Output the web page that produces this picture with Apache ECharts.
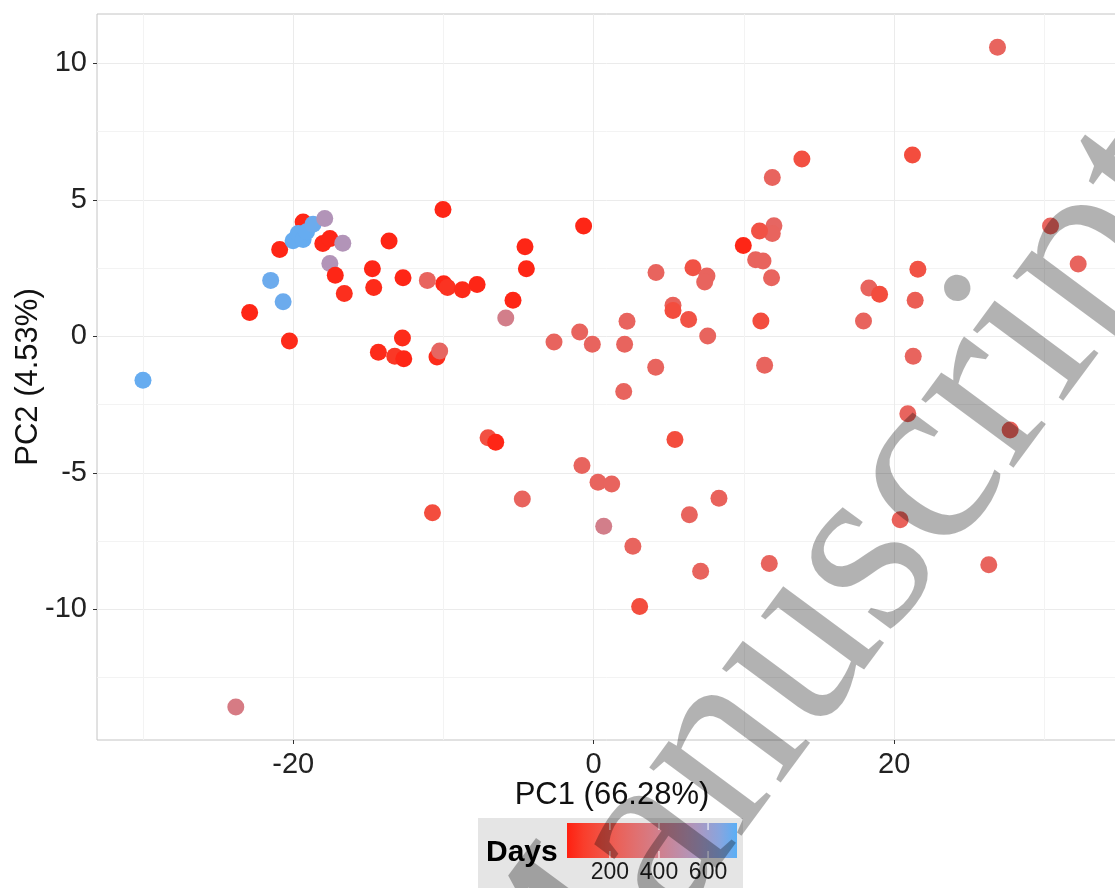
<!DOCTYPE html>
<html><head><meta charset="utf-8">
<script src="https://cdn.jsdelivr.net/npm/echarts@6/dist/echarts.min.js"></script>
<style>html,body{margin:0;padding:0;background:#fff}#c{width:1115px;height:888px}</style>
</head><body><div id="c"></div>
<script>
// ---- data ----
const pc1 = [-30.0,-22.9,-20.25,-21.5,-20.67,-20.9,-19.34,-20.01,-19.67,-19.34,
  -19.11,-18.68,-17.9,-18.03,-17.56,-16.7,-17.56,-17.2,-16.6,-14.73,
  -14.64,-14.33,-13.62,-12.69,-11.07,-10.03,-9.98,-9.73,-8.74,-7.76,
  -4.57,-4.48,-5.37,-5.85,-0.67,-12.73,-13.24,-12.64,-10.43,-10.25,
  -2.64,-0.93,-0.09,2.22,2.06,2.0,13.86,11.89,21.22,12.0,
  11.89,11.04,9.96,10.78,11.27,11.84,4.15,6.61,7.54,7.39,
  5.28,5.28,6.32,7.59,11.13,4.13,11.38,18.32,19.03,17.96,
  21.58,21.4,21.27,-7.03,-6.52,5.41,-0.78,0.29,1.2,-4.75,
  -10.73,0.67,8.34,6.37,2.61,7.12,11.69,3.06,26.88,30.41,
  32.25,20.91,27.72,20.4,26.3,-23.82];
const pc2 = [-1.61,0.87,-0.17,2.05,1.27,3.18,4.19,3.50,3.77,3.55,
  3.83,4.11,4.32,3.40,3.58,3.41,2.67,2.24,1.57,2.48,
  1.79,-0.58,3.49,2.15,2.05,4.65,1.93,1.79,1.71,1.90,
  3.28,2.48,1.32,0.67,4.04,-0.06,-0.73,-0.82,-0.76,-0.54,
  -0.21,0.16,-0.29,0.55,-0.29,-2.02,6.50,5.82,6.64,4.05,
  3.77,3.86,3.33,2.81,2.76,2.15,2.34,2.51,2.21,1.99,
  1.14,0.95,0.62,0.01,0.56,-1.13,-1.06,1.77,1.54,0.56,
  2.46,1.32,-0.73,-3.72,-3.88,-3.78,-4.73,-5.35,-5.41,-5.96,
  -6.46,-6.96,-5.93,-6.54,-7.69,-8.61,-8.32,-9.90,10.59,4.04,
  2.65,-2.84,-3.43,-6.72,-8.37,-13.58];
const days = [700,40,50,690,690,40,40,700,700,700,
  700,690,530,40,40,530,530,40,60,40,
  50,50,40,40,250,40,40,70,50,40,
  40,40,40,390,40,50,80,40,50,260,
  250,250,250,250,250,250,160,250,150,260,
  250,170,40,250,250,250,250,170,250,250,
  240,150,170,250,150,250,250,250,150,250,
  170,220,250,160,40,150,250,250,250,250,
  150,390,240,250,250,250,250,150,250,250,
  250,250,240,240,250,370];
const xMajor = [-20, 0, 20];
const xMinor = [-30, -10, 10, 30];
const yMajor = [-10, -5, 0, 5, 10];
const yMinor = [-12.5, -7.5, -2.5, 2.5, 7.5];
const legendTicks = [200, 400, 600];
const daysMin = 25, daysMax = 718;
const xTitle = 'PC1 (66.28%)';
const yTitle = 'PC2 (4.53%)';
const legendTitle = 'Days';

// ---- colour scale (Lab interpolation like ggplot) ----
const lowCol = [255, 32, 16], highCol = [90, 175, 246];
function toLin(c){c/=255;return c<=0.04045?c/12.92:Math.pow((c+0.055)/1.055,2.4);}
function fromLin(v){v=v<=0.0031308?12.92*v:1.055*Math.pow(v,1/2.4)-0.055;return Math.round(Math.max(0,Math.min(1,v))*255);}
function f(t){return t>0.008856?Math.cbrt(t):7.787*t+16/116;}
function finv(t){const t3=t*t*t;return t3>0.008856?t3:(t-16/116)/7.787;}
function rgb2lab(c){const R=toLin(c[0]),G=toLin(c[1]),B=toLin(c[2]);
  const X=(0.4124*R+0.3576*G+0.1805*B)/0.95047,Y=0.2126*R+0.7152*G+0.0722*B,Z=(0.0193*R+0.1192*G+0.9505*B)/1.08883;
  return [116*f(Y)-16,500*(f(X)-f(Y)),200*(f(Y)-f(Z))];}
function lab2rgb(l){const fy=(l[0]+16)/116,fx=fy+l[1]/500,fz=fy-l[2]/200;
  const X=finv(fx)*0.95047,Y=finv(fy),Z=finv(fz)*1.08883;
  const R=3.2406*X-1.5372*Y-0.4986*Z,G=-0.9689*X+1.8758*Y+0.0415*Z,B=0.0557*X-0.2040*Y+1.0570*Z;
  return 'rgb('+fromLin(R)+','+fromLin(G)+','+fromLin(B)+')';}
const labLo = rgb2lab(lowCol), labHi = rgb2lab(highCol);
const nStops = 11;
const stops = [];
for (let i = 0; i < nStops; i++) {
  const t = i/(nStops-1);
  stops.push(lab2rgb([0,1,2].map(k => labLo[k]+(labHi[k]-labLo[k])*t)));
}

const FONT = '"Liberation Sans", Arial, sans-serif';
const xMin = -33.06, xMax = 35.5, yMin = -14.79, yMax = 11.81;
const gridLeft = 97, gridTop = 14, gridW = 1030, gridH = 726;

const chart = echarts.init(document.getElementById('c'), null, {renderer: 'canvas'});
const points = pc1.map((x, i) => [x, pc2[i], days[i]]);

// legend geometry
const barX = 567, barY = 823, barW = 170, barH = 35;
const graphics = [
  {type:'rect', shape:{x:478, y:818, width:265, height:80}, style:{fill:'#E5E5E5'}, z:50, silent:true},
  {type:'text', x:486, y:853, style:{text:legendTitle, font:'bold 30px '+FONT, fill:'#000', textVerticalAlign:'middle', verticalAlign:'middle'}, z:51, silent:true},
  {type:'rect', shape:{x:barX, y:barY, width:barW, height:barH},
   style:{fill:new echarts.graphic.LinearGradient(0,0,1,0, stops.map((c,i)=>({offset:i/(nStops-1), color:c})))}, z:51, silent:true}
];
legendTicks.forEach(v => {
  const tx = barX + (v - daysMin)/(daysMax - daysMin)*barW;
  graphics.push({type:'line', shape:{x1:tx, y1:barY, x2:tx, y2:barY+7}, style:{stroke:'#fff', lineWidth:1}, z:52, silent:true});
  graphics.push({type:'line', shape:{x1:tx, y1:barY+barH-7, x2:tx, y2:barY+barH}, style:{stroke:'#fff', lineWidth:1}, z:52, silent:true});
  graphics.push({type:'text', x:tx, y:873, style:{text:String(v), font:'23px '+FONT, fill:'#1a1a1a', textAlign:'center', align:'center', textVerticalAlign:'middle', verticalAlign:'middle'}, z:52, silent:true});
});
// watermark
const wmFont = '250px "Liberation Serif", "DejaVu Serif", serif';
const wmRot = 53.5 * Math.PI / 180;
const wmX = 487, wmY = 1069;
graphics.push({type:'text', x:wmX, y:wmY, rotation:wmRot, z:100, silent:true,
  style:{text:'Manuscript', font:wmFont, fill:'rgba(0,0,0,0.3)', textAlign:'left', align:'left', textVerticalAlign:'middle', verticalAlign:'middle'}});
graphics.push({type:'text', x:wmX, y:wmY, rotation:wmRot, z:100, silent:true,
  style:{text:'Accepted ', font:wmFont, fill:'rgba(0,0,0,0.3)', textAlign:'right', align:'right', textVerticalAlign:'middle', verticalAlign:'middle'}});

const option = {
  animation: false,
  backgroundColor: '#fff',
  grid: {left:gridLeft, top:gridTop, width:gridW, height:gridH, show:true, borderColor:'#C4C4C4', borderWidth:1,
         backgroundColor:'#fff', containLabel:false, outerBoundsMode:'none'},
  xAxis: [
    {type:'value', min:xMin, max:xMax, position:'bottom',
     axisLine:{show:false, onZero:false},
     axisTick:{show:true, length:4, lineStyle:{color:'#333'}, customValues:xMajor},
     axisLabel:{customValues:xMajor, fontSize:29, color:'#222', fontFamily:FONT, margin:10},
     splitLine:{show:true, lineStyle:{color:'#EBEBEB', width:1}},
     name:xTitle, nameLocation:'middle', nameGap:40, nameMoveOverlap:false,
     nameTextStyle:{fontSize:31, color:'#111', fontFamily:FONT}},
    {type:'value', min:xMin, max:xMax, position:'top',
     axisLine:{show:false, onZero:false}, axisLabel:{show:false},
     axisTick:{show:false, customValues:xMinor},
     splitLine:{show:true, lineStyle:{color:'#F3F3F3', width:1}}}
  ],
  yAxis: [
    {type:'value', min:yMin, max:yMax, position:'left',
     axisLine:{show:false, onZero:false},
     axisTick:{show:true, length:4, lineStyle:{color:'#333'}, customValues:yMajor},
     axisLabel:{customValues:yMajor, fontSize:29, color:'#222', fontFamily:FONT, margin:10},
     splitLine:{show:true, lineStyle:{color:'#EBEBEB', width:1}},
     name:yTitle, nameLocation:'middle', nameGap:53, nameRotate:90, nameMoveOverlap:false,
     nameTextStyle:{fontSize:31, color:'#111', fontFamily:FONT}},
    {type:'value', min:yMin, max:yMax, position:'right',
     axisLine:{show:false, onZero:false}, axisLabel:{show:false},
     axisTick:{show:false, customValues:yMinor},
     splitLine:{show:true, lineStyle:{color:'#F3F3F3', width:1}}}
  ],
  visualMap: {type:'continuous', show:false, dimension:2, min:daysMin, max:daysMax, seriesIndex:0,
              inRange:{color:stops}},
  series: [{type:'scatter', xAxisIndex:0, yAxisIndex:0, data:points, symbolSize:17,
            itemStyle:{opacity:1}, z:5}],
  graphic: graphics
};
chart.setOption(option);
</script></body></html>
